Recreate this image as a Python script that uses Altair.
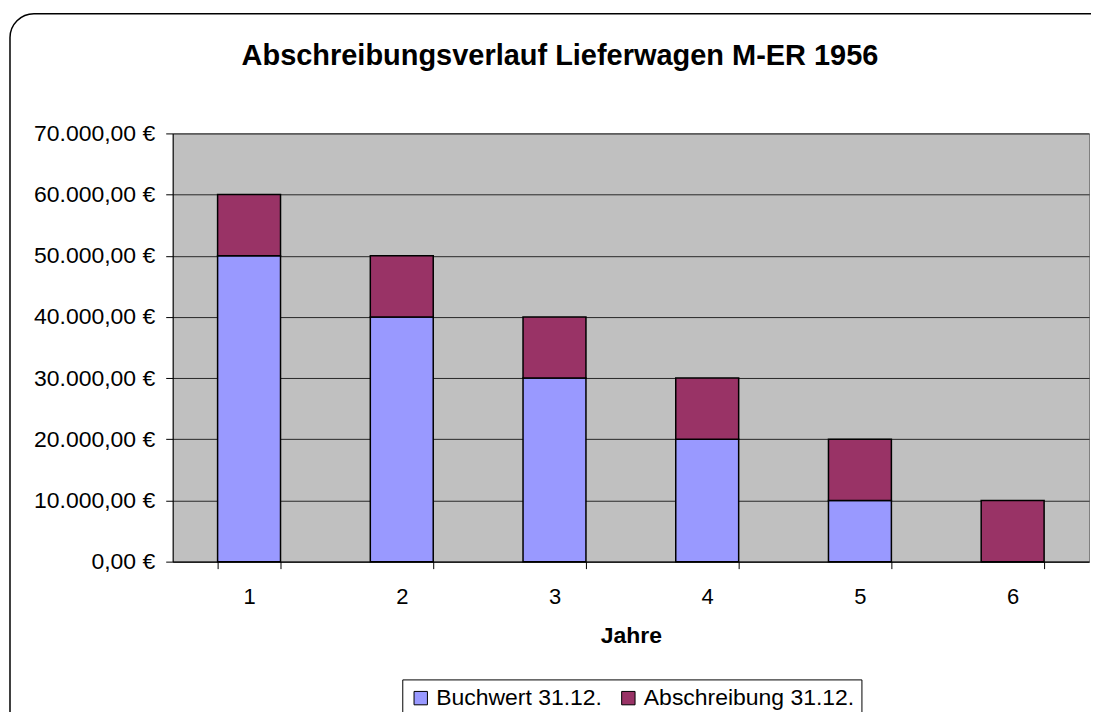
import altair as alt
import pandas as pd

years = ["1", "2", "3", "4", "5", "6"]
buchwert = [50000, 40000, 30000, 20000, 10000, 0]
abschreibung = [10000, 10000, 10000, 10000, 10000, 10000]
series = ["Buchwert 31.12.", "Abschreibung 31.12."]
colors = ["#9999FF", "#993366"]
y_ticks = [0, 10000, 20000, 30000, 40000, 50000, 60000, 70000]
chart_title = "Abschreibungsverlauf Lieferwagen M-ER 1956"

rows = []
for i, y in enumerate(years):
    rows.append({"Jahr": y, "Serie": series[0], "Wert": buchwert[i], "ord": 0})
    rows.append({"Jahr": y, "Serie": series[1], "Wert": abschreibung[i], "ord": 1})
df = pd.DataFrame(rows)

FONT = "Liberation Sans"

label_expr = ("replace(replace(replace(format(datum.value, ',.2f'), ',', '#'), '.', ','), '#', '.') + ' €'")

bars = alt.Chart(df).mark_bar(stroke="black", strokeWidth=1.5).encode(
    x=alt.X("Jahr:N", sort=years,
            scale=alt.Scale(paddingInner=0.588, paddingOuter=0.294),
            axis=alt.Axis(title="Jahre", labelAngle=0, tickBand="extent",
                          labelFontSize=22, labelFont=FONT, labelColor="black",
                          titleFontSize=23, titleFont=FONT, titleFontWeight="bold",
                          titleColor="black", titlePadding=17, labelPadding=18,
                          tickSize=7, tickColor="black", domainColor="black",
                          grid=False)),
    y=alt.Y("Wert:Q", stack="zero",
            scale=alt.Scale(domain=[0, 70000], nice=False),
            axis=alt.Axis(title=None, values=y_ticks, labelExpr=label_expr,
                          labelFontSize=23, labelFont=FONT, labelColor="black",
                          labelPadding=11, tickSize=7, tickColor="black",
                          domainColor="black", grid=True, gridColor="black",
                          gridOpacity=0.8, gridWidth=1)),
    color=alt.Color("Serie:N", scale=alt.Scale(domain=series, range=colors),
                    sort=series,
                    legend=alt.Legend(title=None, orient="none", direction="horizontal",
                                      legendX=230, legendY=547,
                                      labelFontSize=23, labelFont=FONT, labelColor="black",
                                      labelLimit=400,
                                      symbolType="square", symbolSize=180,
                                      symbolStrokeColor="black", symbolStrokeWidth=1,
                                      strokeColor="black", fillColor="white",
                                      padding=7, columnPadding=14, labelOffset=4)),
    order=alt.Order("ord:Q"),
)

border = alt.Chart(pd.DataFrame({"a": [0]})).mark_rect(
    fill=None, stroke="black", strokeWidth=1.5, cornerRadius=24
).encode(
    x=alt.value(-163), x2=alt.value(945), y=alt.value(-120), y2=alt.value(620)
)

title = alt.Chart(pd.DataFrame({"t": [chart_title]})).mark_text(
    font=FONT, fontSize=29, fontWeight="bold", color="black",
    align="center", baseline="alphabetic"
).encode(text="t:N", x=alt.value(388), y=alt.value(-69))

chart = alt.layer(border, bars, title).properties(
    width=918, height=429,
    autosize=alt.AutoSizeParams(type="none"),
    padding={"left": 165, "top": 125, "right": 2, "bottom": 150},
).configure(background="white").configure_view(fill="#C0C0C0", stroke="#808080")

chart.save("out.html", embed_options={"renderer": "svg", "actions": False})
